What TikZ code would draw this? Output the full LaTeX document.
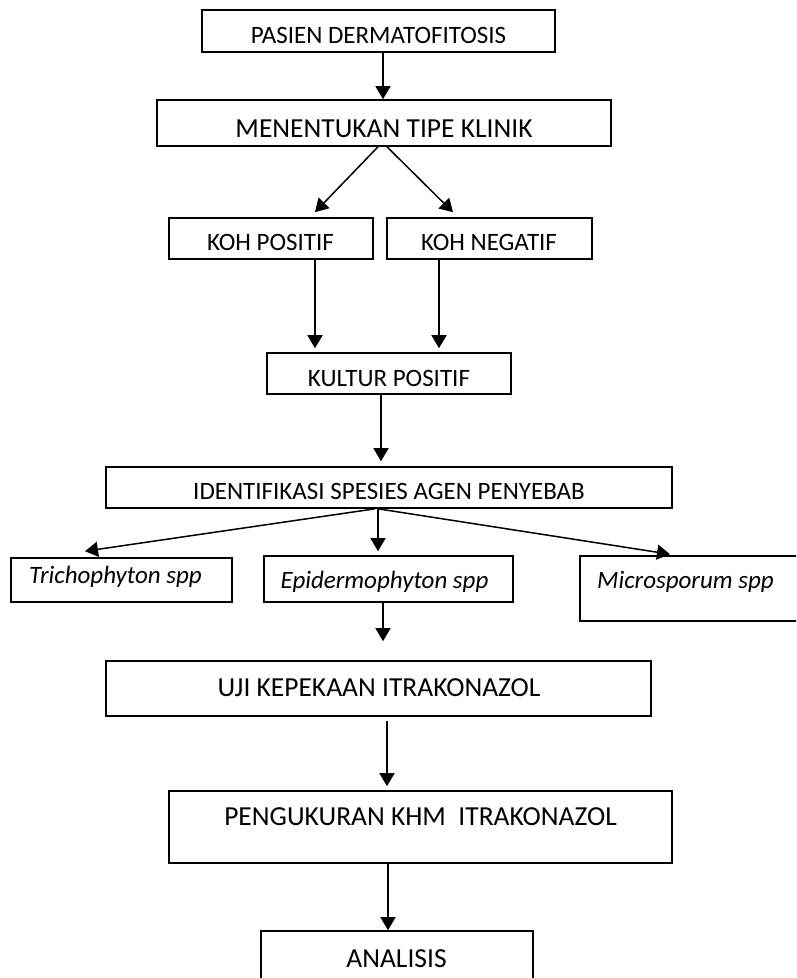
\documentclass[tikz,border=0pt]{standalone}
\usepackage{fontspec}
\setmainfont{Carlito}
\usetikzlibrary{arrows.meta}
\begin{document}
\begin{tikzpicture}[x=1pt,y=-1pt,
  box/.style={draw, line width=1.6pt, inner sep=0pt, rectangle},
  lbl/.style={anchor=base, inner sep=0pt, font=\fontsize{25}{30}\selectfont},
  biglbl/.style={anchor=base, inner sep=0pt, font=\fontsize{27.5}{33}\selectfont},
  itlbl/.style={anchor=base, inner sep=0pt, font=\fontsize{25}{30}\selectfont\itshape},
  arr/.style={line width=1.5pt, -{Triangle[length=13pt,width=15pt]}}]
\useasboundingbox (0,0) rectangle (796,978);
\clip (0,0) rectangle (796,978);
% boxes
\node[box, minimum width=353pt, minimum height=42pt] (b1) at (378.5,31) {};
\node[box, minimum width=454pt, minimum height=46pt] (b2) at (384,123) {};
\node[box, minimum width=204pt, minimum height=41pt] (b3) at (271,238.5) {};
\node[box, minimum width=205pt, minimum height=41pt] (b4) at (489.5,238.5) {};
\node[box, minimum width=244pt, minimum height=41pt] (b5) at (389,373.5) {};
\node[box, minimum width=566pt, minimum height=41pt] (b6) at (389,487.5) {};
\node[box, minimum width=221pt, minimum height=44pt] (b7) at (121.5,580) {};
\node[box, minimum width=249pt, minimum height=46pt] (b8) at (388.5,579) {};
\node[box, minimum width=240pt, minimum height=65pt] (b9) at (700,588.5) {};
\node[box, minimum width=545pt, minimum height=55pt] (b10) at (378.5,688.5) {};
\node[box, minimum width=503pt, minimum height=72pt] (b11) at (420.5,827) {};
\node[box, minimum width=272pt, minimum height=69pt] (b12) at (397,965.5) {};
% texts
\node[lbl] (t1) at (378.5,43) {PASIEN DERMATOFITOSIS};
\node[biglbl] (t2) at (384,137) {MENENTUKAN TIPE KLINIK};
\node[lbl] (t3) at (270.5,250) {KOH POSITIF};
\node[lbl] (t4) at (489,250) {KOH NEGATIF};
\node[lbl] (t5) at (389,386) {KULTUR POSITIF};
\node[lbl] (t6) at (389,499) {IDENTIFIKASI SPESIES AGEN PENYEBAB};
\node[itlbl] (t7) at (115.5,583) {Trichophyton spp};
\node[itlbl] (t8) at (384.5,588) {Epidermophyton spp};
\node[itlbl] (t9) at (685.5,588) {Microsporum spp};
\node[biglbl] (t10) at (379,696) {UJI KEPEKAAN ITRAKONAZOL};
\node[biglbl] (t11) at (420.5,825) {PENGUKURAN KHM\ \ ITRAKONAZOL};
\node[biglbl] (t12) at (396.5,967) {ANALISIS};
% arrows
\draw[arr] ([xshift=4.5pt]b1.south) -- ([xshift=-1pt]b2.north);
\draw[arr] ([xshift=-6pt]b2.south) -- ([xshift=44pt,yshift=5pt]b3.north);
\draw[arr] ([xshift=3pt]b2.south) -- ([xshift=-36.5pt,yshift=5pt]b4.north);
\draw[arr] ([xshift=44pt]b3.south) -- ([xshift=-74pt,yshift=4pt]b5.north);
\draw[arr] ([xshift=-50.5pt]b4.south) -- ([xshift=50pt,yshift=4pt]b5.north);
\draw[arr] ([xshift=-8pt]b5.south) -- ([xshift=-8pt,yshift=5pt]b6.north);
\draw[arr] ([xshift=-14pt]b6.south) -- ([xshift=-36.5pt,yshift=6pt]b7.north);
\draw[arr] ([xshift=-11pt]b6.south) -- ([xshift=-10.5pt,yshift=4pt]b8.north);
\draw[arr] ([xshift=-11pt]b6.south) -- ([xshift=-30pt,yshift=1pt]b9.north);
\draw[arr] ([xshift=-5.5pt]b8.south) -- ([xshift=4.5pt,yshift=19pt]b10.north);
\draw[arr] ([xshift=8.5pt,yshift=-4pt]b10.south) -- ([xshift=-33.5pt,yshift=4pt]b11.north);
\draw[arr] ([xshift=-32.5pt]b11.south) -- ([xshift=-9pt]b12.north);
\end{tikzpicture}
\end{document}
